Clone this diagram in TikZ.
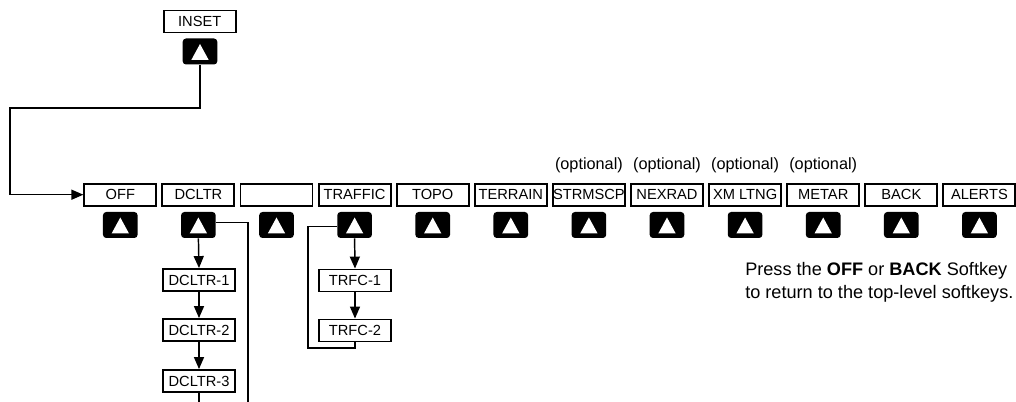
\documentclass[tikz,border=0pt]{standalone}
\usepackage{fontspec}
\setmainfont{Liberation Sans}
\usetikzlibrary{arrows.meta}
\begin{document}
\begin{tikzpicture}[x=0.75pt,y=-0.75pt,
 skbox/.style={draw, line width=1.4pt, minimum width=54pt, minimum height=16.5pt, inner sep=0pt, font=\fontsize{11}{12}\selectfont},
 key/.style={fill=black, rounded corners=2.5pt, minimum width=26pt, minimum height=19.5pt, inner sep=0pt},
 conn/.style={line width=1.1pt},
 arr/.style={conn, -{Triangle[length=9pt,width=7.5pt]}},
 optl/.style={font=\fontsize{12.2}{14}\selectfont},
 note/.style={font=\fontsize{13.6}{15}\selectfont, align=left, anchor=north west, inner sep=0pt}
]
\useasboundingbox (0,0) rectangle (1016,402);
\newcommand\keytri[1]{\fill[white] ([shift={(-8.7,8.5)}]#1.center) -- ([shift={(8.7,8.5)}]#1.center) -- ([shift={(0,-7.5)}]#1.center) -- cycle;}

% INSET
\node[skbox] (inset) at (199.7,21.5) {INSET};
\node[key] (kinset) at (200,51.5) {};
\keytri{kinset}

% top-level row
\foreach \i/\t/\n in {0/OFF/off,1/DCLTR/dcltr,2/{}/blank,3/TRAFFIC/traffic,4/TOPO/topo,5/TERRAIN/terrain,6/STRMSCP/strmscp,7/NEXRAD/nexrad,8/XM LTNG/xmltng,9/METAR/metar,10/BACK/back,11/ALERTS/alerts}{
  \node[skbox] (\n) at (120.3+78.1*\i,194.7) {\t};
  \node[key] (k\n) at (120.3+78.1*\i,225) {};
  \keytri{k\n}
}

% optional labels
\foreach \n in {strmscp,nexrad,xmltng,metar}{
  \node[optl] (o\n) at ([yshift=22.3pt]\n.center) {(optional)};
}

% sub boxes
\node[skbox] (d1) at (199,280) {DCLTR-1};
\node[skbox] (d2) at (199,330) {DCLTR-2};
\node[skbox] (d3) at (199,381) {DCLTR-3};
\node[skbox] (t1) at (355,280.5) {TRFC-1};
\node[skbox] (t2) at (355,330.5) {TRFC-2};

% note
\node[note] (note) at (745,262) {Press the \textbf{OFF} or \textbf{BACK} Softkey\\[2.2pt]to return to the top-level softkeys.};

% connectors
\coordinate (c1) at (10,108);
\draw[arr] (kinset.south) |- (c1) |- (off.west);

\coordinate (dend) at (199,402);
\coordinate (dright) at (248,402);
\draw[arr] (kdcltr.south) -- (d1.north);
\draw[arr] (d1.south) -- (d2.north);
\draw[arr] (d2.south) -- (d3.north);
\draw[conn] (d3.south) -- (dend);
\draw[conn] ([yshift=2]kdcltr.east) -| (dright);

\coordinate (tl) at (308,348);
\draw[arr] (ktraffic.south) -- (t1.north);
\draw[arr] (t1.south) -- (t2.north);
\draw[conn] (t2.south) |- (tl) |- ([yshift=-1]ktraffic.west);
\end{tikzpicture}
\end{document}
